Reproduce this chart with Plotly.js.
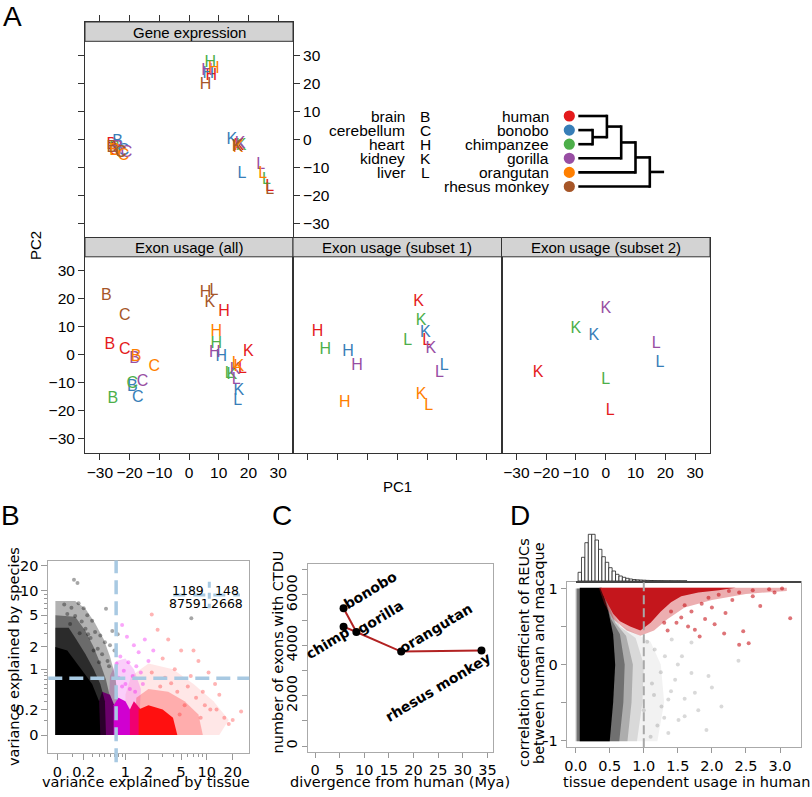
<!DOCTYPE html>
<html><head><meta charset="utf-8">
<script src="https://cdn.plot.ly/plotly-3.0.1.min.js"></script>
<style>html,body{margin:0;padding:0;background:#fff}#chart{width:812px;height:797px}</style>
</head><body><div id="chart"></div>
<script>
// ---------------- DATA ----------------
const species = ['human','bonobo','chimpanzee','gorilla','orangutan','rhesus monkey'];
const speciesColors = ['#E41A1C','#377EB8','#4DAF4A','#984EA3','#FF7F00','#A65628'];
const tissues = ['brain','cerebellum','heart','kidney','liver'];
const tissueCodes = ['B','C','H','K','L'];
const pcTicks = [-30,-20,-10,0,10,20,30];

// Panel A: PC1 / PC2 per species (rows) and tissue (cols B,C,H,K,L)
const geneExprPC1 = [
 [-26,-25,7.5,16.8,27.2],
 [-24,-22,6.5,14.4,17.8],
 [-25,-23,7.2,17.5,26.1],
 [-24,-21,6.1,17.2,24.1],
 [-25,-22,8.3,16.5,24.8],
 [-26,-23,5.6,16.2,27.2]];
const geneExprPC2 = [
 [-2,-4,22.7,-2.2,-17],
 [-1,-4,23.5,-0.3,-12.3],
 [-3,-5,27.3,-2.5,-14.6],
 [-3,-5,24.5,-1.8,-9.2],
 [-4,-6,25,-3,-12.5],
 [-3,-5,19.5,-2.8,-18]];
const exonAllPC1 = [
 [-26.6,-21.6,11.8,20,18],
 [-19.1,-17.2,10.9,16.8,16.4],
 [-25.6,-19.1,9.2,14.4,13.5],
 [-18.3,-15.6,8.7,15.5,15.9],
 [-17.8,-11.7,9.2,16.8,15.9],
 [-27.8,-21.6,5.6,7,8.4]];
const exonAllPC2 = [
 [3.5,1.7,15.4,0.9,-5],
 [-11.4,-15.5,-0.9,-13.1,-16.7],
 [-16,-10.5,3.8,-7.3,-6.9],
 [-1.6,-9.9,0.5,-5.4,-9],
 [-1,-4.3,8,-4.5,-3.3],
 [21,13.9,21.9,18.3,22.9]];
const subset1PC1 = [
 [null,null,-26.8,7.2,9.9],
 [null,null,-16.5,9.4,15.8],
 [null,null,-24.2,8,3.5],
 [null,null,-13.5,11.3,14.2],
 [null,null,-17.6,8,10.6],
 [null,null,null,null,null]];
const subset1PC2 = [
 [null,null,8,18.7,5],
 [null,null,0.8,7.6,-3.9],
 [null,null,1.7,12.1,5],
 [null,null,-3.9,2,-6.7],
 [null,null,-17.4,-14.3,-18.5],
 [null,null,null,null,null]];
const subset2PC1 = [
 [null,null,null,-22.7,1.5],
 [null,null,null,-4,18.2],
 [null,null,null,-10,0],
 [null,null,null,0,16.9],
 [null,null,null,null,null],
 [null,null,null,null,null]];
const subset2PC2 = [
 [null,null,null,-6.7,-20],
 [null,null,null,6.8,-3.1],
 [null,null,null,9.2,-9],
 [null,null,null,16.3,3.8],
 [null,null,null,null,null],
 [null,null,null,null,null]];
// dendrogram topology: merges of node indices (leaves 0-5), with merge level
const treeMerges = [[1,2],[0,6],[7,3],[8,4],[9,5]];
const treeLevels = [1,2,3,4,5];

// Panel B (variance explained; axis shows log10(v + offset))
const bOffset = 0.2;
const bTissueThreshold = 0.74, bSpeciesThreshold = 0.74;
const bQuadrantCounts = ['1189','148','87591','2668'];
const bTickVals = [0,0.2,1,2,5,10,20];
const bMinorVals = [0.1,0.3,0.4,0.5,0.6,0.7,0.8,0.9,3,4,6,7,8,9];
// dense-cloud envelopes (tissue x, species y), nested density layers
const bBlack1X = [-0.01,0.78,0.78,0.72,0.6,0.48,0.34,0.22,0.12,-0.01];
const bBlack1Y = [0,0,0.35,0.8,1.5,2.5,4.0,6.0,7.5,7.5];
const bBlack2X = [-0.01,0.62,0.62,0.52,0.42,0.32,0.22,0.12,-0.01];
const bBlack2Y = [0,0,0.3,0.7,1.2,2.0,3.2,4.8,5.0];
const bBlack3X = [-0.01,0.52,0.5,0.42,0.32,0.22,0.13,0.07,-0.01];
const bBlack3Y = [0,0,0.3,0.6,1.0,1.6,2.5,3.5,3.5];
const bBlackCoreX = [-0.01,0.42,0.4,0.3,0.2,0.12,0.06,-0.01];
const bBlackCoreY = [0,0,0.3,0.6,0.9,1.3,1.8,2.0];
const bMagentaHaloX = [0.55,1.5,1.6,1.3,1.0,0.75,0.6];
const bMagentaHaloY = [0,0,0.5,1.0,1.4,1.3,0.8];
const bPurpleX = [0.4,0.76,0.72,0.6,0.45,0.4];
const bPurpleY = [0,0,0.22,0.4,0.45,0.3];
const bMagentaX = [0.68,1.3,1.25,1.0,0.8,0.68];
const bMagentaY = [0,0,0.15,0.3,0.35,0.25];
const bRedHalo1X = [1.0,14,18,12,7,4,2,1.2,1.0];
const bRedHalo1Y = [0,0,0.1,0.3,0.6,1.0,1.2,0.8,0.4];
const bRedHalo2X = [1.3,9,8,5.5,3.5,2,1.4];
const bRedHalo2Y = [0,0,0.15,0.3,0.45,0.5,0.35];
const bPinkX = [1.15,1.7,1.6,1.3,1.15];
const bPinkY = [0,0,0.2,0.3,0.2];
const bRedX = [1.5,4.5,4,3,2,1.5];
const bRedY = [0,0,0.12,0.2,0.25,0.2];
// sparse points
const bGrayPtsX = [0.11,0.14,0.04,0.09,0.15,0.2,0.06,0.12,0.24,0.18,0.3,0.08,0.22,0.34,0.42,0.52,0.28,0.5,0.38,0.6,0.45,0.7,0.55,0.65,0.78,0.32,0.58,0.4,0.25,0.16,6.6];
const bGrayPtsY = [13.5,12.3,6.8,6.2,7.0,6.1,5.2,4.9,5.0,4.2,4.3,3.9,3.4,3.1,2.8,6.0,2.6,2.3,1.9,2.1,1.6,1.8,1.3,3.2,2.9,1.8,1.1,1.25,2.9,3.0,4.6];
const bMagPtsX = [0.9,1.05,1.3,0.85,1.1,1.5,1.8,0.95,1.25,0.8,1.4,0.9,1.15,1.6,2.0,1.7,0.75,1.35,1.0,2.3];
const bMagPtsY = [3.8,2.7,2.1,1.5,1.25,1.7,2.5,0.95,0.8,0.75,1.1,0.55,0.5,0.9,1.3,0.6,1.2,0.45,0.6,1.8];
const bRedPtsX = [2.2,2.6,3.5,5.0,7.0,3.0,4.2,8.0,10.5,12.5,2.2,6.0,14.0,9.0,25.0,16.0,18.0,11.0,3.2,7.5,4.5,2.8,5.5,3.8,6.5,9.5,13,20,4.8,8.5];
const bRedPtsY = [5.1,3.3,2.5,1.8,1.8,1.4,1.0,1.3,0.9,0.6,0.9,0.55,0.4,0.45,0.18,0.12,0.07,0.2,0.75,0.35,0.45,0.55,0.25,0.62,0.8,0.25,0.2,0.1,0.15,0.12];

// Panel C
const cSpecies = ['chimp','bonobo','gorilla','orangutan','rhesus monkey'];
const cDivergence = [5.8,5.8,8.4,17.5,33.8];
const cExons = [4740,5470,4530,3750,3790];
const cPath = [1,2,null,0,2,3,4];

// Panel D
const dThreshold = 1.0;
const histStart = 0.035, histWidth = 0.05;
const histCounts = [8.7,23.7,38.3,46.7,46.7,41,31.7,24.3,18.7,13.3,10,6.7,5,3.7,2.7,2,1.5,1.2,1,0.8,0.6,0.5,0.4,0.35,0.3,0.25,0.2,0.2,0.15,0.15,0.1,0.1];
const dGrayHaloX = [0.0,1.2,1.3,1.25,1.1,0.9,0.6,0.4,0.0];
const dGrayHaloY = [-1.01,-1.01,-0.5,0,0.3,0.4,0.55,1.0,1.0];
const dGrayMidX = [0.0,0.9,0.98,1.0,0.88,0.65,0.4,0.0];
const dGrayMidY = [-1.01,-1.01,-0.5,0,0.35,0.5,1.0,1.0];
const dGrayMid2X = [0.0,0.76,0.82,0.84,0.74,0.58,0.4,0.0];
const dGrayMid2Y = [-1.01,-1.01,-0.5,0,0.38,0.55,1.0,1.0];
const dGrayInnerX = [0.02,0.64,0.7,0.72,0.65,0.52,0.4,0.02];
const dGrayInnerY = [-1.01,-1.01,-0.5,0,0.4,0.6,1.0,1.0];
const dBlackX = [0.06,0.5,0.55,0.58,0.55,0.48,0.4,0.38,0.06];
const dBlackY = [-1.01,-1.01,-0.5,0,0.4,0.7,0.95,1.01,1.01];
const dRedHaloX = [0.34,0.42,0.55,0.75,0.95,1.15,1.35,1.6,2.0,2.5,3.1,3.1];
const dRedHaloY = [1.01,0.8,0.6,0.45,0.38,0.45,0.6,0.75,0.85,0.93,0.97,1.01];
const dRedX = [0.36,0.4,0.47,0.55,0.65,0.8,0.95,1.1,1.25,1.4,1.55,1.8,2.1,2.35];
const dRedY = [1.01,0.92,0.8,0.67,0.57,0.5,0.45,0.55,0.7,0.82,0.9,0.95,0.98,1.01];
const dRedPtsX = [1.75,1.82,2.04,2.18,2.46,2.4,2.54,2.71,3.15,3.03,2.84,2.6,2.4,2.25,2.1,1.95,2.3,1.85,1.7,1.6,1.55,1.48,1.4,1.35,2.6,2.0,1.9,2.2,2.92,1.65,1.3];
const dRedPtsY = [0.46,0.37,0.53,0.41,0.44,0.26,0.28,0.77,0.61,1.0,0.99,0.98,0.95,0.97,0.92,0.88,0.85,0.8,0.7,0.78,0.62,0.55,0.7,0.45,0.9,0.75,0.6,0.68,0.95,0.5,0.55];
const dGrayPtsX = [1.46,1.7,1.95,2.14,1.75,1.36,1.6,1.92,1.36,1.51,1.26,1.12,1.31,1.56,1.7,1.41,1.16,2.39,1.2,1.1,1.05,1.25,1.4,1.8,1.0,1.15,1.3,1.5,1.6,2.0];
const dGrayPtsY = [-0.2,-0.11,-0.15,-0.55,-0.37,-0.46,-0.68,-0.86,-0.9,-0.73,-0.55,-0.25,0.11,0.11,0.29,0.33,0.2,0.05,-0.8,-0.95,0.3,-0.1,-0.35,-0.6,-0.6,-0.4,-0.7,0.0,-0.45,-0.3];

// ---------------- LAYOUT HELPERS ----------------
const W = 812, H = 797;
const X = p => p / W, Y = p => 1 - p / H;
const FA = 'Liberation Sans, Arial, sans-serif';
const FD = 'DejaVu Sans, sans-serif';
const traces = [];
const annotations = [];
const shapes = [];
function ann(o){annotations.push(Object.assign({xref:'paper',yref:'paper',showarrow:false,xanchor:'center',yanchor:'middle'},o));}

function axA(o){return Object.assign({showgrid:false,zeroline:false,showline:true,linecolor:'#333',linewidth:1,ticks:'outside',ticklen:6,tickcolor:'#333',tickmode:'array',tickfont:{family:FA,size:15.5,color:'#000'}},o);}
function axD(o){return Object.assign({showgrid:false,zeroline:false,showline:true,mirror:true,linecolor:'#aaa',linewidth:1,ticks:'outside',ticklen:5,tickcolor:'#999',tickmode:'array',tickfont:{family:FD,size:14.5,color:'#000'}},o);}

// ---------------- PANEL A ----------------
function letterPanel(pc1, pc2, xa, ya){
  species.forEach((s,i)=>{
    const xs=[],ys=[],ts=[];
    tissueCodes.forEach((t,j)=>{ if(pc1[i][j]!==null){xs.push(pc1[i][j]);ys.push(pc2[i][j]);ts.push(t);} });
    if(xs.length) traces.push({type:'scatter',mode:'text',x:xs,y:ys,text:ts,xaxis:xa,yaxis:ya,
      textfont:{family:FA,size:16,color:speciesColors[i]},hoverinfo:'skip',cliponaxis:false});
  });
}
letterPanel(geneExprPC1,geneExprPC2,'x','y');
letterPanel(exonAllPC1,exonAllPC2,'x2','y2');
letterPanel(subset1PC1,subset1PC2,'x3','y3');
letterPanel(subset2PC1,subset2PC2,'x4','y4');

const strips = [
  {t:'Gene expression',x0:85,x1:293,y0:22,y1:41.3},
  {t:'Exon usage (all)',x0:85,x1:293,y0:237.5,y1:256.8},
  {t:'Exon usage (subset 1)',x0:293,x1:501.5,y0:237.5,y1:256.8},
  {t:'Exon usage (subset 2)',x0:501.5,x1:710,y0:237.5,y1:256.8}];
strips.forEach(s=>{
  shapes.push({type:'rect',xref:'paper',yref:'paper',x0:X(s.x0),x1:X(s.x1),y0:Y(s.y1),y1:Y(s.y0),fillcolor:'#d3d3d3',line:{color:'#333',width:1}});
  ann({x:X((s.x0+s.x1)/2),y:Y((s.y0+s.y1)/2+0.5),text:s.t,font:{family:FA,size:15,color:'#000'}});
});
ann({x:X(397.5),y:Y(486),text:'PC1',font:{family:FA,size:15,color:'#000'}});
ann({x:X(36),y:Y(246),text:'PC2',textangle:-90,font:{family:FA,size:15,color:'#000'}});

// legend: tissues & species
const rowY = i => 116 + i*14.1;
tissues.forEach((t,i)=>{
  ann({x:X(407),y:Y(rowY(i)),text:t,xanchor:'right',font:{family:FA,size:15.5,color:'#000'}});
  ann({x:X(425),y:Y(rowY(i)),text:tissueCodes[i],font:{family:FA,size:15.5,color:'#000'}});
});
species.forEach((s,i)=>{
  ann({x:X(551),y:Y(rowY(i)),text:s,xanchor:'right',font:{family:FA,size:15.5,color:'#000'}});
  const cx=569.3, cy=rowY(i), r=5.6;
  shapes.push({type:'circle',xref:'paper',yref:'paper',x0:X(cx-r),x1:X(cx+r),y0:Y(cy+r),y1:Y(cy-r),fillcolor:speciesColors[i],line:{width:0}});
});
// dendrogram
(function(){
  const tipX=578.3, step=14.3;
  const nodes = species.map((s,i)=>({x:tipX,y:rowY(i)}));
  const L=(x0,y0,x1,y1)=>shapes.push({type:'line',xref:'paper',yref:'paper',x0:X(x0),y0:Y(y0),x1:X(x1),y1:Y(y1),line:{color:'#000',width:2.6}});
  treeMerges.forEach((m,k)=>{
    const a=nodes[m[0]], b=nodes[m[1]], nx=tipX+treeLevels[k]*step;
    L(a.x,a.y,nx,a.y); L(b.x,b.y,nx,b.y); L(nx,a.y-1.3,nx,b.y+1.3);
    nodes.push({x:nx,y:(a.y+b.y)/2});
  });
  const root=nodes[nodes.length-1];
  L(root.x,root.y,root.x+step,root.y);
})();

// ---------------- PANEL B ----------------
const off = a => a.map(v=>v+bOffset);
function poly(x,y,color,xa,ya){traces.push({type:'scatter',mode:'lines',x:x,y:y,fill:'toself',fillcolor:color,line:{width:0,color:color},xaxis:xa,yaxis:ya,hoverinfo:'skip'});}
function pts(x,y,color,size,xa,ya){traces.push({type:'scatter',mode:'markers',x:x,y:y,marker:{color:color,size:size,line:{width:0}},xaxis:xa,yaxis:ya,hoverinfo:'skip'});}
poly(off(bRedHalo1X),off(bRedHalo1Y),'rgba(255,70,70,0.13)','x5','y5');
poly(off(bMagentaHaloX),off(bMagentaHaloY),'rgba(235,60,235,0.25)','x5','y5');
poly(off(bRedHalo2X),off(bRedHalo2Y),'rgba(255,40,40,0.3)','x5','y5');
poly(off(bBlack1X),off(bBlack1Y),'rgba(0,0,0,0.3)','x5','y5');
poly(off(bBlack2X),off(bBlack2Y),'rgba(0,0,0,0.4)','x5','y5');
poly(off(bPurpleX),off(bPurpleY),'#6a006a','x5','y5');
poly(off(bMagentaX),off(bMagentaY),'#d000d0','x5','y5');
poly(off(bPinkX),off(bPinkY),'#f00070','x5','y5');
poly(off(bRedX),off(bRedY),'#ff1010','x5','y5');
poly(off(bBlack3X),off(bBlack3Y),'rgba(0,0,0,0.6)','x5','y5');
poly(off(bBlackCoreX),off(bBlackCoreY),'#000','x5','y5');
pts(off(bGrayPtsX),off(bGrayPtsY),'rgba(0,0,0,0.35)',4,'x5','y5');
pts(off(bMagPtsX),off(bMagPtsY),'rgba(240,0,240,0.35)',4,'x5','y5');
pts(off(bRedPtsX),off(bRedPtsY),'rgba(255,40,40,0.35)',4,'x5','y5');
const lb='#a8c9e2';
shapes.push({type:'line',xref:'x5',yref:'y5 domain',x0:bTissueThreshold+bOffset,x1:bTissueThreshold+bOffset,y0:-0.05,y1:1,line:{color:lb,width:3.5,dash:'14px,7px'}});
shapes.push({type:'line',xref:'x5 domain',yref:'y5',x0:0,x1:1,y0:bSpeciesThreshold+bOffset,y1:bSpeciesThreshold+bOffset,line:{color:lb,width:3.5,dash:'14px,7px'}});
shapes.push({type:'line',xref:'paper',yref:'paper',x0:X(173.3),x1:X(240),y0:Y(595),y1:Y(595),line:{color:lb,width:3,dash:'12px,8px'}});
shapes.push({type:'line',xref:'paper',yref:'paper',x0:X(209.3),x1:X(209.3),y0:Y(581.7),y1:Y(608.3),line:{color:lb,width:3,dash:'6px,5px'}});
[[188.3,590],[227.5,590],[189,603.3],[226.7,603.3]].forEach((p,i)=>ann({x:X(p[0]),y:Y(p[1]),text:bQuadrantCounts[i],font:{family:FD,size:12.5,color:'#000'}}));
ann({x:X(146),y:Y(782),text:'variance explained by tissue',font:{family:FD,size:14.5,color:'#000'}});
ann({x:X(13.3),y:Y(656.7),text:'variance explained by species',textangle:-90,font:{family:FD,size:14.5,color:'#000'}});

// ---------------- PANEL C ----------------
traces.push({type:'scatter',mode:'lines',x:cPath.map(i=>i===null?null:cDivergence[i]),y:cPath.map(i=>i===null?null:cExons[i]),line:{color:'#b22222',width:2},connectgaps:false,xaxis:'x6',yaxis:'y6',hoverinfo:'skip'});
traces.push({type:'scatter',mode:'markers',x:cDivergence,y:cExons,marker:{color:'#000',size:8},xaxis:'x6',yaxis:'y6',hoverinfo:'skip'});
const cLabelShift = [[-16,-16.6],[27,18],[24,15.3],[35,23.4],[-43.4,-36]];
cSpecies.forEach((s,i)=>annotations.push({xref:'x6',yref:'y6',x:cDivergence[i],y:cExons[i],xshift:cLabelShift[i][0],yshift:cLabelShift[i][1],xanchor:'center',yanchor:'middle',text:'<b>'+s+'</b>',textangle:-31,showarrow:false,font:{family:FD,size:14,color:'#000'}}));
ann({x:X(400),y:Y(782),text:'divergence from human (Mya)',font:{family:FD,size:14.5,color:'#000'}});
ann({x:X(277.5),y:Y(652),text:'number of exons with CTDU',textangle:-90,font:{family:FD,size:14.5,color:'#000'}});

// ---------------- PANEL D ----------------
traces.push({type:'bar',x:histCounts.map((c,i)=>histStart+histWidth*(i+0.5)),y:histCounts,width:histWidth,marker:{color:'#fff',line:{color:'#222',width:0.8}},xaxis:'x8',yaxis:'y8',hoverinfo:'skip'});
poly(dGrayHaloX,dGrayHaloY,'rgba(0,0,0,0.05)','x7','y7');
poly(dGrayMidX,dGrayMidY,'rgba(0,0,0,0.1)','x7','y7');
poly(dGrayMid2X,dGrayMid2Y,'rgba(0,0,0,0.2)','x7','y7');
poly(dGrayInnerX,dGrayInnerY,'rgba(0,0,0,0.35)','x7','y7');
poly(dBlackX,dBlackY,'#000','x7','y7');
pts(dGrayPtsX,dGrayPtsY,'rgba(0,0,0,0.15)',4,'x7','y7');
poly(dRedHaloX,dRedHaloY,'rgba(200,22,28,0.35)','x7','y7');
poly(dRedX,dRedY,'#c4161c','x7','y7');
pts(dRedPtsX,dRedPtsY,'rgba(200,22,28,0.6)',4,'x7','y7');
shapes.push({type:'line',xref:'x7',yref:'y7 domain',x0:dThreshold,x1:dThreshold,y0:0,y1:1,line:{color:'#a8a8a8',width:2,dash:'9px,4px'}});
ann({x:X(686),y:Y(782),text:'tissue dependent usage in human',font:{family:FD,size:14.5,color:'#000'}});
ann({x:X(524),y:Y(653),text:'correlation coefficient of REUCs',textangle:-90,font:{family:FD,size:14.5,color:'#000'}});
ann({x:X(539),y:Y(653),text:'between human and macaque',textangle:-90,font:{family:FD,size:14.5,color:'#000'}});

// panel letters
[['A',12,16],['B',10,515],['C',281.7,515],['D',520,515]].forEach(l=>ann({x:X(l[1]),y:Y(l[2]),text:l[0],font:{family:FA,size:28,color:'#000'}}));

// ---------------- LAYOUT ----------------
const layout = {
  width:W,height:H,margin:{l:0,r:0,t:0,b:0},paper_bgcolor:'#fff',plot_bgcolor:'rgba(0,0,0,0)',showlegend:false,
  xaxis: axA({domain:[X(85),X(293)],range:[-35,35],anchor:'y',side:'top',tickvals:pcTicks,showticklabels:false,mirror:true}),
  yaxis: axA({domain:[Y(237.5),Y(22)],range:[-35,41.9],anchor:'x',side:'right',tickvals:pcTicks,mirror:'ticks'}),
  xaxis2: axA({domain:[X(85),X(293)],range:[-35,35],anchor:'y2',tickvals:pcTicks,mirror:true}),
  yaxis2: axA({domain:[Y(452.5),Y(237.5)],range:[-35,41.9],anchor:'x2',tickvals:pcTicks,mirror:true}),
  xaxis3: axA({domain:[X(293),X(501.5)],range:[-35,35],anchor:'y3',tickvals:pcTicks,showticklabels:false,mirror:true}),
  yaxis3: axA({domain:[Y(452.5),Y(237.5)],range:[-35,41.9],anchor:'x3',ticks:'',showticklabels:false,mirror:true}),
  xaxis4: axA({domain:[X(501.5),X(710)],range:[-35,35],anchor:'y4',tickvals:pcTicks,mirror:true}),
  yaxis4: axA({domain:[Y(452.5),Y(237.5)],range:[-35,41.9],anchor:'x4',ticks:'',showticklabels:false,mirror:true}),
  xaxis5: axD({type:'log',domain:[X(48.3),X(249.3)],range:[-0.802,1.495],anchor:'y5',tickvals:off(bTickVals),ticktext:bTickVals.map(String),ticklen:6,
    minor:{tickmode:'array',tickvals:off(bMinorVals),ticks:'outside',ticklen:3,tickcolor:'#999'}}),
  yaxis5: axD({type:'log',domain:[Y(752.7),Y(560.5)],range:[-0.908,1.364],anchor:'x5',tickvals:off(bTickVals),ticktext:bTickVals.map(String),ticklen:6,
    minor:{tickmode:'array',tickvals:off(bMinorVals),ticks:'outside',ticklen:3,tickcolor:'#999'}}),
  xaxis6: axD({domain:[X(308.3),X(493.3)],range:[-1.36,36.2],anchor:'y6',tickvals:[0,5,10,15,20,25,30,35]}),
  yaxis6: axD({domain:[Y(751.7),Y(564)],range:[-226,7231],anchor:'x6',tickvals:[0,1000,2000,3000,4000,5000,6000,7000],ticktext:['0','','2000','','4000','','6000',''],tickangle:-90}),
  xaxis7: axD({domain:[X(566.7),X(800.7)],range:[-0.132,3.304],anchor:'y7',tickvals:[0,0.5,1,1.5,2,2.5,3],ticktext:['0.0','0.5','1.0','1.5','2.0','2.5','3.0']}),
  yaxis7: axD({domain:[Y(747.3),Y(582.3)],range:[-1.088,1.083],anchor:'x7',tickvals:[-1,-0.5,0,0.5,1],ticktext:['-1','','0','','1']}),
  xaxis8: {domain:[X(575.7),X(800.7)],range:[0,3.304],anchor:'y8',showline:true,linecolor:'#444',linewidth:1.5,ticks:'',showticklabels:false,showgrid:false,zeroline:false},
  yaxis8: {domain:[Y(581),Y(533)],range:[0,48],anchor:'x8',visible:false},
  annotations:annotations, shapes:shapes
};
Plotly.newPlot('chart',traces,layout,{staticPlot:true});
</script></body></html>
